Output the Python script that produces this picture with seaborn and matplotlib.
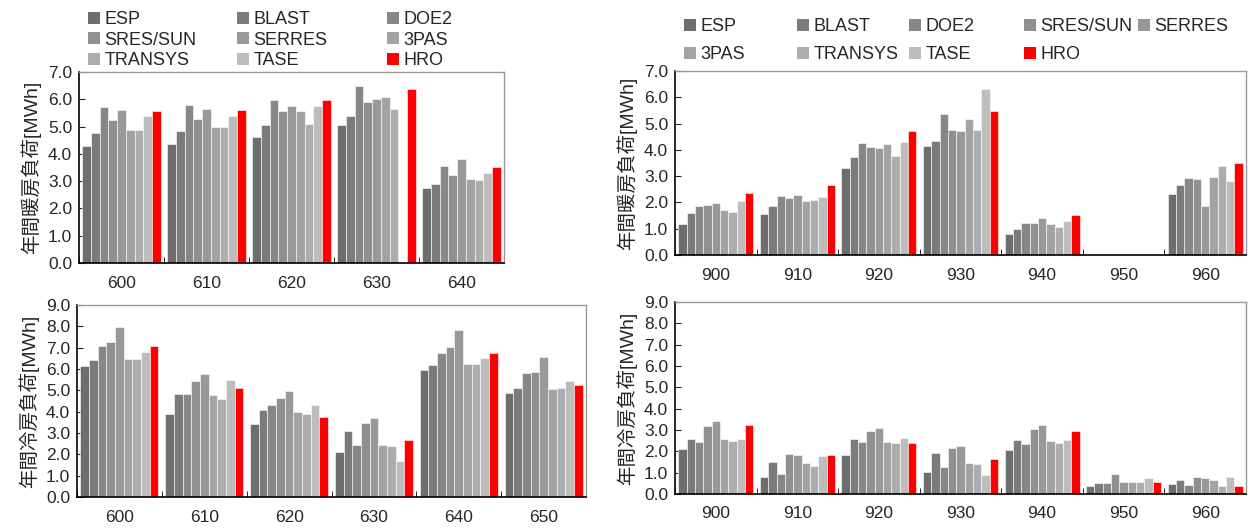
import matplotlib.pyplot as plt
import seaborn as sns
import numpy as np
import pandas as pd
from matplotlib.patches import Patch
from matplotlib.ticker import MultipleLocator, FormatStrFormatter, FixedLocator

# programas comparados y colores de las barras
programas = ["ESP", "BLAST", "DOE2", "SRES/SUN", "SERRES", "3PAS", "TRANSYS", "TASE", "HRO"]
colores = ["#6e6e6e", "#7b7b7b", "#878787", "#909090", "#999999",
           "#a3a3a3", "#adadad", "#bdbdbd", "#ff0000"]

casos_600 = ["600", "610", "620", "630", "640"]
casos_600_frio = ["600", "610", "620", "630", "640", "650"]
casos_900 = ["900", "910", "920", "930", "940", "950", "960"]

# carga anual de calefacción, serie 600 (una fila por programa)
calef_600 = [
    [4.30, 4.36, 4.62, 5.05, 2.75],  # ESP
    [4.78, 4.82, 5.07, 5.37, 2.88],  # BLAST
    [5.72, 5.80, 5.97, 6.48, 3.55],  # DOE2
    [5.24, 5.27, 5.57, 5.90, 3.23],  # SRES/SUN
    [5.61, 5.64, 5.75, 6.01, 3.82],  # SERRES
    [4.89, 4.97, 5.57, 6.10, 3.08],  # 3PAS
    [4.88, 4.97, 5.08, 5.63, 3.05],  # TRANSYS
    [5.37, 5.40, 5.75, 0.00, 3.31],  # TASE
    [5.56, 5.60, 5.97, 6.39, 3.52],  # HRO
]

# carga anual de refrigeración, serie 600
frio_600 = [
    [6.13, 3.90, 3.40, 2.11, 5.95, 4.87],
    [6.42, 4.84, 4.08, 3.08, 6.17, 5.13],
    [7.07, 4.84, 4.33, 2.46, 6.76, 5.79],
    [7.28, 5.45, 4.62, 3.47, 7.01, 5.88],
    [7.95, 5.78, 4.99, 3.68, 7.81, 6.54],
    [6.48, 4.76, 3.99, 2.46, 6.23, 5.07],
    [6.48, 4.59, 3.88, 2.39, 6.23, 5.10],
    [6.78, 5.49, 4.33, 1.71, 6.51, 5.43],
    [7.10, 5.13, 3.77, 2.68, 6.73, 5.27],
]

# carga anual de calefacción, serie 900
calef_900 = [
    [1.17, 1.56, 3.31, 4.14, 0.79, 0.0, 2.31],
    [1.60, 1.85, 3.74, 4.35, 1.00, 0.0, 2.65],
    [1.86, 2.23, 4.25, 5.35, 1.23, 0.0, 2.93],
    [1.89, 2.15, 4.09, 4.77, 1.22, 0.0, 2.89],
    [1.98, 2.27, 4.06, 4.73, 1.39, 0.0, 1.85],
    [1.72, 2.04, 4.23, 5.17, 1.17, 0.0, 2.95],
    [1.65, 2.08, 3.76, 4.74, 1.06, 0.0, 3.37],
    [2.04, 2.20, 4.30, 6.31, 1.31, 0.0, 2.80],
    [2.37, 2.65, 4.71, 5.48, 1.51, 0.0, 3.51],
]

# carga anual de refrigeración, serie 900
frio_900 = [
    [2.13, 0.81, 1.83, 1.02, 2.08, 0.39, 0.47],
    [2.59, 1.52, 2.59, 1.93, 2.55, 0.53, 0.65],
    [2.44, 0.96, 2.44, 1.27, 2.33, 0.53, 0.42],
    [3.17, 1.88, 2.93, 2.16, 3.03, 0.93, 0.81],
    [3.42, 1.85, 3.09, 2.24, 3.23, 0.57, 0.73],
    [2.58, 1.43, 2.44, 1.44, 2.48, 0.54, 0.65],
    [2.47, 1.32, 2.39, 1.41, 2.38, 0.54, 0.39],
    [2.59, 1.77, 2.61, 0.90, 2.52, 0.76, 0.79],
    [3.25, 1.82, 2.39, 1.66, 2.97, 0.57, 0.39],
]

sns.set_style("ticks")
plt.rcParams["font.family"] = ["Liberation Sans", "Noto Sans CJK JP", "DejaVu Sans"]

W, H = 1255, 528
fig = plt.figure(figsize=(W / 100, H / 100), dpi=100)


def panel(rect, casos, valores, ymax, etiqueta):
    ax = fig.add_axes([rect[0] / W, 1 - rect[3] / H, (rect[2] - rect[0]) / W, (rect[3] - rect[1]) / H])
    df = pd.DataFrame(valores, index=programas, columns=casos)
    df = df.reset_index().melt(id_vars="index", var_name="caso", value_name="carga")
    sns.barplot(data=df, x="caso", y="carga", hue="index", order=casos, hue_order=programas,
                palette=colores, width=0.92, saturation=1, edgecolor="white", linewidth=0.4,
                errorbar=None, legend=False, ax=ax)
    n = len(casos)
    ax.set_xlim(-0.5, n - 0.5)
    ax.set_ylim(0, ymax)
    ax.yaxis.set_major_locator(MultipleLocator(1))
    ax.yaxis.set_major_formatter(FormatStrFormatter("%.1f"))
    ax.xaxis.set_minor_locator(FixedLocator(np.arange(n + 1) - 0.5))
    ax.tick_params(axis="x", which="major", length=0, pad=9, labelsize=12.5)
    ax.tick_params(axis="x", which="minor", length=4, direction="in", color="black")
    ax.tick_params(axis="y", length=4, direction="in", labelsize=12.5, pad=5)
    ax.set_xlabel("")
    ax.set_ylabel(etiqueta, fontsize=14, labelpad=5)
    for lado in ["left", "bottom"]:
        ax.spines[lado].set_color("black")
        ax.spines[lado].set_linewidth(1.2)
    for lado in ["top", "right"]:
        ax.spines[lado].set_color("#999999")
        ax.spines[lado].set_linewidth(1.0)
    return ax


panel((79, 72, 504, 263), casos_600, calef_600, 7, "年間暖房負荷[MWh]")
panel((77, 305, 586, 497), casos_600_frio, frio_600, 9, "年間冷房負荷[MWh]")
panel((675, 71, 1246, 255), casos_900, calef_900, 7, "年間暖房負荷[MWh]")
panel((675, 302, 1246, 494), casos_900, frio_900, 9, "年間冷房負荷[MWh]")

parches = [Patch(facecolor=c, edgecolor="none") for c in colores]


def leyenda(indices, x, y, paso):
    fig.legend([parches[i] for i in indices], [programas[i] for i in indices],
               loc="upper left", bbox_to_anchor=(x / W, 1 - y / H), frameon=False,
               borderpad=0, borderaxespad=0, handlelength=0.65, handleheight=0.65,
               handletextpad=0.25, labelspacing=paso, fontsize=13)


# leyenda izquierda: 3 columnas, orden por filas
for col, x in enumerate([88, 237, 387]):
    leyenda([col, col + 3, col + 6], x, 11, 0.2)

# leyenda derecha: 5 columnas, 2 filas
for col, x in enumerate([684, 797, 909, 1024, 1138]):
    idx = [col] if col == 4 else [col, col + 5]
    leyenda(idx, x, 18, 0.62)

plt.savefig("out.png", dpi=100)
